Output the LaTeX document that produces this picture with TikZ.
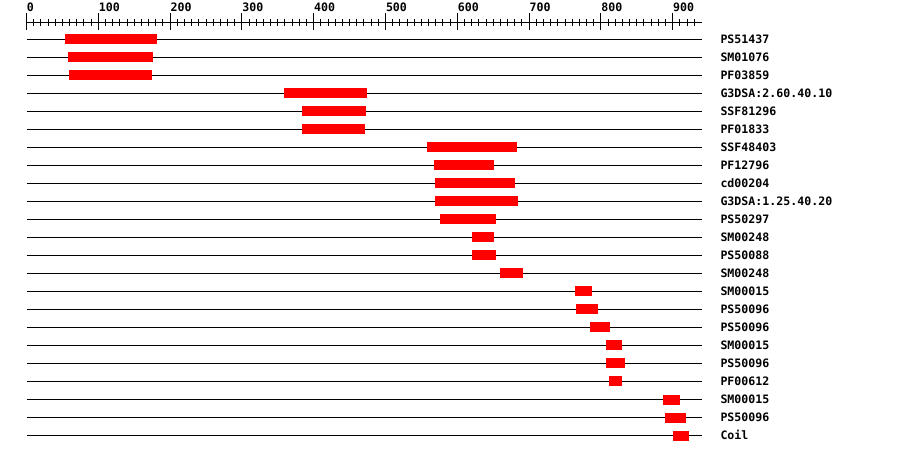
\documentclass[tikz,border=0pt]{standalone}
\usepackage{fontspec}
\newfontfamily\lblfont{DejaVu Sans Mono}
\begin{document}
\begin{tikzpicture}[x=1pt,y=-1pt,line width=1pt,
  lbl/.style={font=\lblfont\bfseries\fontsize{11.6}{12}\selectfont,inner sep=0pt,anchor=base west},
  track/.style={draw=black,line width=1pt},
  domainbar/.style={fill=red,draw=none}]
\useasboundingbox[fill=white] (0,0) rectangle (900,454);
% ruler
\coordinate (r0) at (26.5,22.5);
\coordinate (r1) at (702,22.5);
\draw (r0) -- (r1);
\foreach \i in {0,...,93}{%
  \pgfmathtruncatemacro\m{mod(\i,10)}%
  \ifnum\m=0
    \draw (26.5+7.18*\i,13) -- ++(0,17);
  \else
    \draw (26.5+7.18*\i,19) -- ++(0,7);
  \fi}
\foreach \n [count=\k from 0] in {0,100,...,900}
  \node[lbl] (t\k) at (26.5+71.8*\k,12) {\n};
% rows
\foreach \name/\a/\b [count=\k] in {
  PS51437/65/157, SM01076/68/153, PF03859/69/152,
  G3DSA:2.60.40.10/284/367, SSF81296/302/366, PF01833/302/365,
  SSF48403/427/517, PF12796/434/494, cd00204/435/515,
  G3DSA:1.25.40.20/435/518, PS50297/440/496, SM00248/472/494,
  PS50088/472/496, SM00248/500/523, SM00015/575/592,
  PS50096/576/598, PS50096/590/610, SM00015/606/622,
  PS50096/606/625, PF00612/609/622, SM00015/663/680,
  PS50096/665/686, Coil/673/689}{%
  \coordinate (a\k) at (26.5,21.5+18*\k);
  \coordinate (b\k) at (702,21.5+18*\k);
  \draw[track] (a\k) -- (b\k);
  \fill[domainbar] (\a,16.5+18*\k) rectangle (\b,26.5+18*\k);
  \node[lbl] (n\k) at (720,25.5+18*\k) {\name};
}
\end{tikzpicture}
\end{document}
